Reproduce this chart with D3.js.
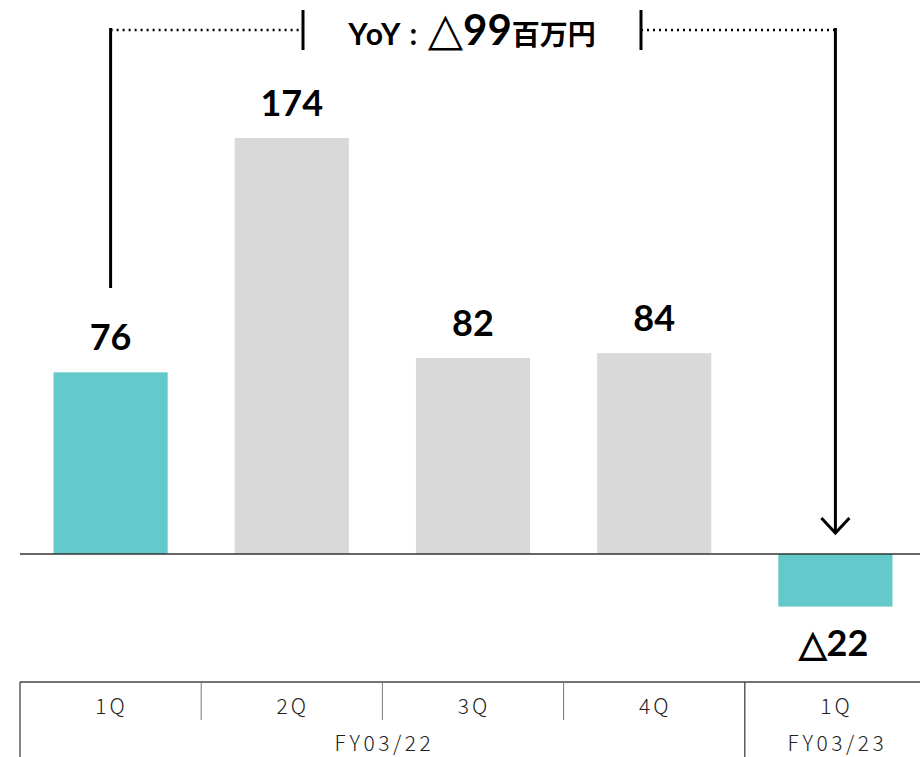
<!DOCTYPE html>
<html>
<head>
<meta charset="utf-8">
<script src="https://cdn.jsdelivr.net/npm/d3@7"></script>
<style>
  body { margin: 0; background: #fff; }
  svg { display: block; }
</style>
</head>
<body>
<div id="chart"></div>
<script>
// data
var quarters = ["1Q", "2Q", "3Q", "4Q", "1Q"];
var values = [76, 174, 82, 84, -22];
var labels = ["76", "174", "82", "84", "△22"];
var highlight = [true, false, false, false, true];
var fiscalYears = [
  { name: "FY03/22", from: 0, to: 3 },
  { name: "FY03/23", from: 4, to: 4 }
];
var yoyText = "YoY : ";
var yoyValue = "99";
var yoyUnit = "百万円";

var svgWidth = 920;
var svgHeight = 757;

var svg = d3.select("#chart").append("svg")
  .attr("width", svgWidth)
  .attr("height", svgHeight);

// scales
var xScale = d3.scaleBand()
  .domain(d3.range(quarters.length))
  .range([20, 926])
  .paddingInner(0.37)
  .paddingOuter(0.185);

var yScale = d3.scaleLinear()
  .domain([0, 174])
  .range([554, 138]);

var bw = xScale.bandwidth();

// bars
svg.selectAll(".bar")
  .data(values)
  .enter()
  .append("rect")
  .attr("x", (d, i) => xScale(i))
  .attr("y", d => Math.min(yScale(d), yScale(0)))
  .attr("width", bw)
  .attr("height", d => Math.abs(yScale(d) - yScale(0)))
  .attr("fill", (d, i) => highlight[i] ? "#63C9CA" : "#D9D9D9");

// zero line
svg.append("line")
  .attr("x1", 20).attr("x2", 920)
  .attr("y1", yScale(0)).attr("y2", yScale(0))
  .attr("stroke", "#333").attr("stroke-width", 1.3);

// value labels
svg.selectAll(".val")
  .data(values)
  .enter()
  .append("text")
  .attr("x", (d, i) => xScale(i) + bw / 2 + (d < 0 ? -2 : 0))
  .attr("y", d => d >= 0 ? yScale(d) - 22 : yScale(d) + 49)
  .attr("text-anchor", "middle")
  .attr("font-family", "Lato, 'Open Sans', sans-serif")
  .attr("font-weight", "bold")
  .attr("font-size", "36px")
  .attr("fill", "#000")
  .text((d, i) => labels[i]);

// table under the chart
var step = xScale.step();
var colX = d3.range(quarters.length + 1).map(i => 20 + i * step);
var tableTop = 682;

svg.append("line")
  .attr("x1", 20).attr("x2", 920)
  .attr("y1", tableTop).attr("y2", tableTop)
  .attr("stroke", "#444").attr("stroke-width", 1.3);

colX.slice(0, quarters.length).forEach(function(x, i) {
  var full = i === 0 || i === 4;
  svg.append("line")
    .attr("x1", x).attr("x2", x)
    .attr("y1", tableTop).attr("y2", full ? svgHeight : 720)
    .attr("stroke", full ? "#444" : "#777")
    .attr("stroke-width", full ? 1.3 : 1);
});

svg.selectAll(".q")
  .data(quarters)
  .enter()
  .append("text")
  .attr("x", (d, i) => xScale(i) + bw / 2 + 1)
  .attr("y", 714)
  .attr("text-anchor", "middle")
  .attr("font-family", "'Noto Sans CJK JP', sans-serif")
  .attr("font-weight", 300)
  .attr("font-size", "21px")
  .attr("letter-spacing", "3px")
  .attr("fill", "#222")
  .text(d => d);

svg.selectAll(".fy")
  .data(fiscalYears)
  .enter()
  .append("text")
  .attr("x", d => (xScale(d.from) + xScale(d.to) + bw) / 2 + 2)
  .attr("y", 751)
  .attr("text-anchor", "middle")
  .attr("font-family", "'Noto Sans CJK JP', sans-serif")
  .attr("font-weight", 300)
  .attr("font-size", "21px")
  .attr("letter-spacing", "3.5px")
  .attr("fill", "#222")
  .text(d => d.name);

// YoY bracket
var xL = xScale(0) + bw / 2;
var xR = xScale(4) + bw / 2;
var yB = 30;

svg.append("line")
  .attr("x1", xL).attr("x2", xL)
  .attr("y1", yB - 2).attr("y2", 288)
  .attr("stroke", "#000").attr("stroke-width", 3);

svg.append("line")
  .attr("x1", xR).attr("x2", xR)
  .attr("y1", yB - 2).attr("y2", 533)
  .attr("stroke", "#000").attr("stroke-width", 3);

svg.append("path")
  .attr("d", `M${xR - 14},${518} L${xR},${533} L${xR + 14},${518}`)
  .attr("fill", "none")
  .attr("stroke", "#000").attr("stroke-width", 3);

svg.append("line")
  .attr("x1", xL).attr("x2", 303)
  .attr("y1", yB).attr("y2", yB)
  .attr("stroke", "#000").attr("stroke-width", 2.5)
  .attr("stroke-dasharray", "2,4");

svg.append("line")
  .attr("x1", 641).attr("x2", xR)
  .attr("y1", yB).attr("y2", yB)
  .attr("stroke", "#000").attr("stroke-width", 2.5)
  .attr("stroke-dasharray", "2,4");

[303, 641].forEach(function(x) {
  svg.append("line")
    .attr("x1", x).attr("x2", x)
    .attr("y1", 10).attr("y2", 50)
    .attr("stroke", "#000").attr("stroke-width", 3);
});

var yoy = svg.append("text")
  .attr("x", 472)
  .attr("y", 45)
  .attr("text-anchor", "middle")
  .attr("font-weight", "bold")
  .attr("fill", "#000");

yoy.append("tspan").attr("font-family", "Lato, sans-serif")
  .attr("font-size", "30px").attr("letter-spacing", "1.5px").text(yoyText);
yoy.append("tspan").attr("font-family", "'DejaVu Sans', sans-serif")
  .attr("font-size", "46px").attr("font-weight", "normal").text("△");
yoy.append("tspan").attr("font-family", "Lato, sans-serif")
  .attr("font-size", "42px").text(yoyValue);
yoy.append("tspan").attr("font-family", "'Noto Sans CJK JP', sans-serif")
  .attr("font-size", "28px").text(yoyUnit);
</script>
</body>
</html>
